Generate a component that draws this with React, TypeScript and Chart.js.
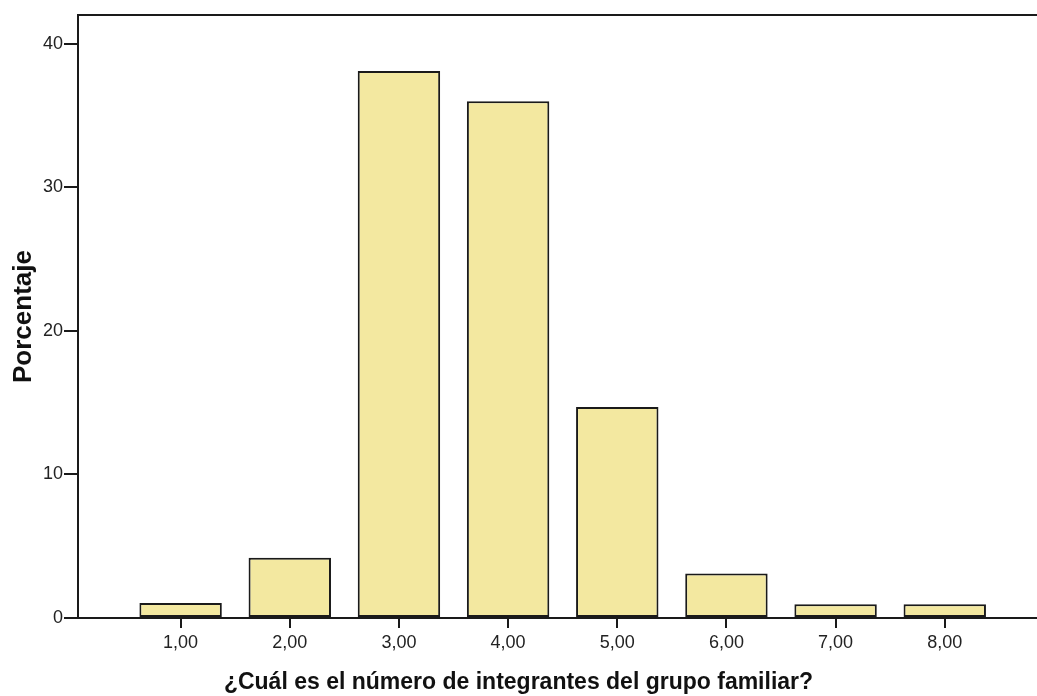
import React, { useEffect, useRef } from "react";
import { Chart, registerables } from "chart.js";

Chart.register(...registerables);

const categories = [1, 2, 3, 4, 5, 6, 7, 8];
const percentages = [1.05, 4.2, 38.1, 36.0, 14.7, 3.1, 0.95, 0.95];
const xTickLabels = ["1,00", "2,00", "3,00", "4,00", "5,00", "6,00", "7,00", "8,00"];
const yTicks = [0, 10, 20, 30, 40];
const xTitle = "¿Cuál es el número de integrantes del grupo familiar?";
const yTitle = "Porcentaje";

const FONT = "'Liberation Sans', Arial, Helvetica, sans-serif";
const LINE = "#1a1a1a";
const FILL = "rgb(243, 232, 160)";

const topFrame = {
  id: "topFrame",
  afterDraw(chart: any) {
    const { ctx, chartArea } = chart;
    ctx.save();
    ctx.strokeStyle = LINE;
    ctx.lineWidth = 2;
    ctx.beginPath();
    ctx.moveTo(chartArea.left, chartArea.top);
    ctx.lineTo(chartArea.right, chartArea.top);
    ctx.stroke();
    ctx.restore();
  },
};

export default function App() {
  const ref = useRef<HTMLCanvasElement>(null);

  useEffect(() => {
    const chart = new Chart(ref.current as HTMLCanvasElement, {
      type: "bar",
      data: {
        datasets: [
          {
            data: categories.map((c, i) => ({ x: c, y: percentages[i] })),
            backgroundColor: FILL,
            borderColor: LINE,
            borderWidth: 2,
            borderSkipped: false,
            categoryPercentage: 1,
            barPercentage: 0.755,
          } as any,
        ],
      },
      options: {
        responsive: false,
        animation: false,
        layout: { padding: { top: 15, left: 0, right: 0, bottom: 0 } },
        plugins: {
          legend: { display: false },
          tooltip: { enabled: false },
          title: {
            display: true,
            position: "bottom",
            text: xTitle,
            color: "#111",
            font: { family: FONT, size: 23, weight: "bold" },
            padding: { top: 0, bottom: 0 },
          },
        },
        scales: {
          x: {
            type: "linear",
            offset: false,
            min: 0.06,
            max: 8.845,
            afterBuildTicks: (s: any) => {
              s.ticks = categories.map((v) => ({ value: v }));
            },
            afterFit: (s: any) => {
              s.height = 50.4;
            },
            ticks: {
              autoSkip: false,
              maxRotation: 0,
              padding: 4,
              color: "#222",
              font: { family: FONT, size: 18 },
              callback: (v: any) => xTickLabels[categories.indexOf(Number(v))],
            },
            grid: {
              offset: false,
              drawOnChartArea: false,
              drawTicks: true,
              tickLength: 10,
              color: LINE,
              lineWidth: 2,
            },
            border: { display: true, color: LINE, width: 2 },
          },
          y: {
            type: "linear",
            min: 0,
            max: 42,
            afterBuildTicks: (s: any) => {
              s.ticks = yTicks.map((v) => ({ value: v }));
            },
            afterFit: (s: any) => {
              s.width = 78;
            },
            ticks: {
              padding: 1,
              color: "#222",
              font: { family: FONT, size: 18 },
            },
            grid: {
              drawOnChartArea: false,
              drawTicks: true,
              tickLength: 14,
              color: LINE,
              lineWidth: 2,
            },
            border: { display: true, color: LINE, width: 2 },
            title: {
              display: true,
              text: yTitle,
              color: "#111",
              font: { family: FONT, size: 26, weight: "bold" },
              padding: { top: 8, bottom: 0 },
            },
          },
        },
      } as any,
      plugins: [topFrame],
    });
    return () => chart.destroy();
  }, []);

  return (
    <div style={{ position: "fixed", left: 0, top: 0, width: 1037, height: 696, background: "#fff" }}>
      <canvas ref={ref} width={1037} height={696} style={{ width: 1037, height: 696, display: "block" }} />
    </div>
  );
}
